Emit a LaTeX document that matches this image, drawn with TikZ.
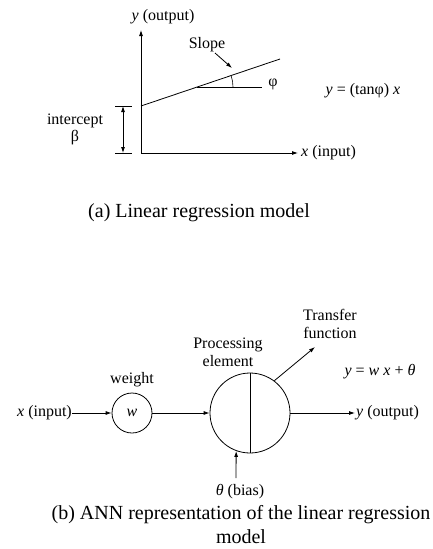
\documentclass[tikz,border=0pt]{standalone}
\usepackage{fontspec}
\setmainfont{Liberation Serif}
\usetikzlibrary{arrows.meta}
\begin{document}
\begin{tikzpicture}[x=1pt,y=-1pt,
  lbl/.style={font=\fontsize{16}{18}\selectfont, inner sep=0pt, align=center},
  captxt/.style={font=\fontsize{20}{24}\selectfont, inner sep=0pt, align=center},
  ln/.style={line width=0.8pt},
  arr/.style={ln,-{Latex[length=6pt,width=4pt]}},
  darr/.style={ln,{Latex[length=6pt,width=4pt]}-{Latex[length=6pt,width=4pt]}},
  nd/.style={draw,circle,line width=0.8pt,inner sep=0pt,font=\fontsize{16}{18}\selectfont}]
\useasboundingbox (0,0) rectangle (432,549);
% ---------- (a) ----------
\coordinate (O) at (141,153);
\coordinate (Ytop) at (141,30);
\coordinate (Xend) at (298,153);
\draw[arr] (O) -- (Ytop);
\draw[arr] (O) -- (Xend);
\node[lbl] (ylab) at (163,17) {\textit{y} (output)};
\node[lbl,anchor=west] (xlab) at (301,153) {\textit{x} (input)};
\coordinate (I) at (141,106);
\coordinate (Lend) at (280,59);
\draw[ln] (I) -- (Lend);
\coordinate (P) at (197,87);
\coordinate (H) at (262,87);
\draw[ln] (P) -- (H);
\draw[line width=0.6pt] (P) ++(36,0) arc[start angle=0, end angle=-18.7, radius=36];
\node[lbl] (phi) at (273,84) {φ};
\node[lbl] (slope) at (207,45) {Slope};
\coordinate (S1) at (215,53);
\coordinate (S2) at (232,68);
\draw[arr] (S1) -- (S2);
\node[lbl] (eqa) at (363,91) {\textit{y} = (tanφ) \textit{x}};
\coordinate (T1a) at (115,106);
\coordinate (T1b) at (132,106);
\coordinate (T2a) at (115,153);
\coordinate (T2b) at (132,153);
\draw[ln] (T1a) -- (T1b);
\draw[ln] (T2a) -- (T2b);
\coordinate (D1) at (123,106);
\coordinate (D2) at (123,153);
\draw[darr] (D1) -- (D2);
\node[lbl] (icpt) at (75,121) {intercept};
\node[lbl] (beta) at (75,138) {β};
\node[captxt] (capa) at (199,213) {(a) Linear regression model};
% ---------- (b) ----------
\node[lbl,anchor=east] (xin) at (72,413) {\textit{x} (input)};
\node[nd,minimum size=40pt] (w) at (132,413) {\textit{w}};
\node[lbl] (wlab) at (132,380) {weight};
\node[nd,minimum size=80pt] (pe) at (250,413) {};
\draw[ln] (pe.north) -- (pe.south);
\draw[arr] (xin.east) -- (w.west);
\draw[arr] (w.east) -- (pe.west);
\coordinate (Yout) at (355,413);
\draw[arr] (pe.east) -- (Yout);
\node[lbl,anchor=west] (ylab2) at (356,413) {\textit{y} (output)};
\node[lbl] (pelab) at (228,352) {Processing\\element};
\coordinate (TF) at (315,347);
\draw[arr] (pe.53) -- (TF);
\node[lbl] (tflab) at (330,324) {Transfer\\function};
\node[lbl] (eqb) at (380,372) {\textit{y} = \textit{w x} + \textit{θ}};
\coordinate (B0) at (236,478);
\draw[arr] (B0) -- (pe.250);
\node[lbl] (bias) at (240,492) {\textit{θ} (bias)};
\node[captxt] (capb) at (241,525) {(b) ANN representation of the linear regression\\model};
\end{tikzpicture}
\end{document}
